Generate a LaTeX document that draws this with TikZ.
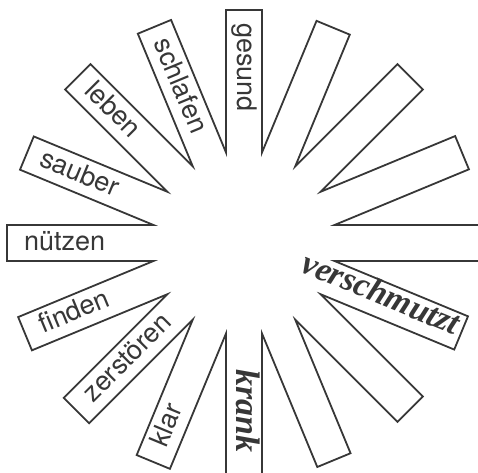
\documentclass[tikz,border=0pt]{standalone}
\usepackage{fontspec}
\setmainfont{TeX Gyre Heros}
\newfontfamily\handfont{Liberation Serif}
\usepackage{tikz}
\definecolor{ink}{RGB}{55,55,55}

\begin{document}
\begin{tikzpicture}[x=1pt, y=1pt,
    sunray/.style={draw=ink, line width=1.8pt, line join=miter},
    word/.style={font=\fontsize{27}{30}\selectfont, text=ink, inner sep=0pt, text height=14pt, text depth=0pt},
    hand/.style={font=\fontsize{34}{36}\selectfont\handfont\bfseries\itshape, text=ink, inner sep=0pt, text height=16pt, text depth=0pt}]
  \useasboundingbox (-244,-229) rectangle (234,243);
  \clip (-244,-229) rectangle (234,243);
  % Rays of the sun, one closed outline
  \draw[sunray] (-11.25:92.3)
    \foreach \a/\l in {0/260, 22.5/236, 45/235, 67.5/233, 90/233, 112.5/234, 135/235, 157.5/235,
                       180/237, 202.5/237, 225/237, 247.5/237, 270/260, 292.5/235, 315/235}{
      -- ([rotate=\a]\l,-18) -- ([rotate=\a]\l,18) -- (\a+11.25:92.3)
    }
    -- ([rotate=337.5]235,-18) -- ([rotate=337.5]235,18) -- cycle;
  % Printed words, read from the outer end inwards
  \foreach \a/\n/\w in {90/gesund/gesund, 112.5/schlafen/schlafen, 135/leben/leben, 157.5/sauber/sauber,
                        180/nuetzen/nützen, 202.5/finden/finden, 225/zerstoeren/zerstören, 247.5/klar/klar}
    \node[word, rotate=\a+180, anchor=west] (\n) at (\a:220) {\w};
  % Handwritten words
  \node[hand, rotate=-22.5, anchor=east] (verschmutzt) at ([rotate=-22.5]230,3) {verschmutzt};
  \node[hand, rotate=-90, anchor=east] (krank) at (-90:210) {krank};
\end{tikzpicture}
\end{document}
